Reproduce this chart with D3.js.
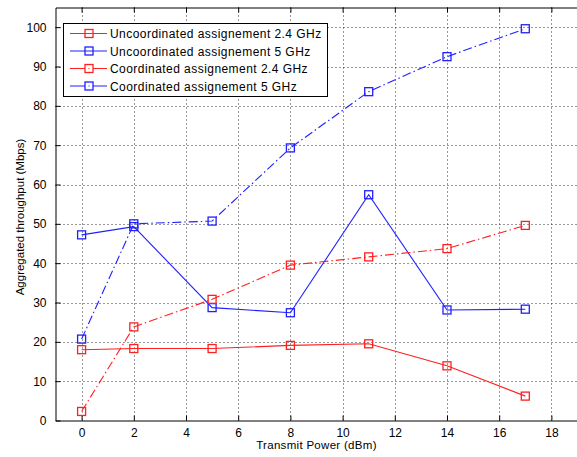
<!DOCTYPE html>
<html>
<head>
<meta charset="utf-8">
<script src="https://cdn.jsdelivr.net/npm/d3@7"></script>
<style>
  body { margin: 0; background: #fff; }
  svg { display: block; }
  text { font-family: "Liberation Sans", Arial, Helvetica, sans-serif; }
</style>
</head>
<body>
<svg id="chart" width="577" height="457"></svg>
<script>
// ---- data ----
const xValues = [0, 2, 5, 8, 11, 14, 17];
const uncoord24 = [18.0, 18.3, 18.3, 19.1, 19.5, 13.9, 6.2];
const uncoord5  = [47.2, 49.3, 28.7, 27.4, 57.4, 28.1, 28.3];
const coord24   = [2.3, 23.8, 30.8, 39.5, 41.6, 43.7, 49.6];
const coord5    = [20.7, 50.0, 50.7, 69.3, 83.6, 92.5, 99.6];
const seriesNames = [
  "Uncoordinated assignement 2.4 GHz",
  "Uncoordinated assignement 5 GHz",
  "Coordinated assignement 2.4 GHz",
  "Coordinated assignement 5 GHz"
];
const xTicks = [0, 2, 4, 6, 8, 10, 12, 14, 16, 18];
const yTicks = [0, 10, 20, 30, 40, 50, 60, 70, 80, 90, 100];
const xLabel = "Transmit Power (dBm)";
const yLabel = "Aggregated throughput (Mbps)";

const series = [
  { name: seriesNames[0], values: uncoord24, color: "#ff2020", dash: null },
  { name: seriesNames[1], values: uncoord5,  color: "#2020ff", dash: null },
  { name: seriesNames[2], values: coord24,   color: "#ff2020", dash: "9,3,1.5,3" },
  { name: seriesNames[3], values: coord5,    color: "#2020ff", dash: "9,3,1.5,3" }
];

// ---- layout ----
const svg = d3.select("#chart");
const L = 55.5, R = 577.5, T = 7.5, B = 420.5;
const x = d3.scaleLinear().domain([-1, 19]).range([L, R]);
const y = d3.scaleLinear().domain([0, 105]).range([B, T]);

svg.append("rect").attr("width", 577).attr("height", 457).attr("fill", "#fff");

// grid
const grid = svg.append("g").attr("stroke", "#000").attr("stroke-width", 1)
  .attr("stroke-dasharray", "1,3").attr("opacity", 0.8);
grid.selectAll(".gx").data(xTicks).join("line")
  .attr("x1", d => Math.round(x(d)) + 0.5).attr("x2", d => Math.round(x(d)) + 0.5)
  .attr("y1", T).attr("y2", B);
grid.selectAll(".gy").data(yTicks.filter(d => d > 0)).join("line")
  .attr("y1", d => Math.round(y(d)) + 0.5).attr("y2", d => Math.round(y(d)) + 0.5)
  .attr("x1", L).attr("x2", R);

// axes
const xAxisB = d3.axisBottom(x).tickValues(xTicks).tickSizeInner(-5).tickSizeOuter(0).tickPadding(8);
const xAxisT = d3.axisTop(x).tickValues(xTicks).tickSizeInner(-5).tickSizeOuter(0).tickFormat("");
const yAxisL = d3.axisLeft(y).tickValues(yTicks).tickSizeInner(-5).tickSizeOuter(0).tickPadding(9);

function styleAxis(g) {
  g.select(".domain").attr("stroke", "#000");
  g.selectAll(".tick line").attr("stroke", "#000");
  g.selectAll(".tick text").attr("fill", "#000").attr("font-size", 12)
   .attr("font-family", "'Liberation Sans', Arial, sans-serif");
}
svg.append("g").attr("transform", `translate(0,${B})`).call(xAxisB).call(styleAxis);
svg.append("g").attr("transform", `translate(0,${T})`).call(xAxisT).call(styleAxis);
svg.append("g").attr("transform", `translate(${L},0)`).call(yAxisL).call(styleAxis);

// axis labels
svg.append("text").attr("x", (L + R) / 2).attr("y", 449).attr("text-anchor", "middle")
  .attr("font-size", 11.5).attr("letter-spacing", 0.3).attr("fill", "#000").text(xLabel);
svg.append("text").attr("transform", `translate(24,${(T + B) / 2 + 3}) rotate(-90)`)
  .attr("text-anchor", "middle").attr("font-size", 11.5).attr("fill", "#000").text(yLabel);

// lines and markers
const line = d3.line().x((d, i) => x(xValues[i])).y(d => y(d));
const ms = 8;
series.forEach(s => {
  svg.append("path").datum(s.values).attr("d", line)
    .attr("fill", "none").attr("stroke", s.color).attr("stroke-width", 1.1)
    .attr("stroke-dasharray", s.dash);
  svg.append("g").selectAll("rect").data(s.values).join("rect")
    .attr("x", (d, i) => x(xValues[i]) - ms / 2).attr("y", d => y(d) - ms / 2)
    .attr("width", ms).attr("height", ms)
    .attr("fill", "none").attr("stroke", s.color).attr("stroke-width", 1.3);
});

// legend
const lg = svg.append("g");
lg.append("rect").attr("x", 63.5).attr("y", 23.5).attr("width", 264).attr("height", 73)
  .attr("fill", "#fff").attr("stroke", "#000").attr("stroke-width", 1);
const rowY = [33.5, 51, 68.5, 86];
series.forEach((s, i) => {
  const ry = rowY[i];
  lg.append("line").attr("x1", 70).attr("x2", 107).attr("y1", ry).attr("y2", ry)
    .attr("stroke", s.color).attr("stroke-width", 1.1);
  lg.append("rect").attr("x", 89 - ms / 2).attr("y", ry - ms / 2).attr("width", ms).attr("height", ms)
    .attr("fill", s.dash ? "#fff" : "none").attr("stroke", s.color).attr("stroke-width", 1.3);
  if (s.dash) {
    lg.append("rect").attr("x", 88.5).attr("y", ry - 0.5).attr("width", 1).attr("height", 1).attr("fill", s.color);
  }
  lg.append("text").attr("x", 110).attr("y", ry + 4.5).attr("font-size", 12)
    .attr("letter-spacing", 0.45).attr("fill", "#000").text(s.name);
});
</script>
</body>
</html>
